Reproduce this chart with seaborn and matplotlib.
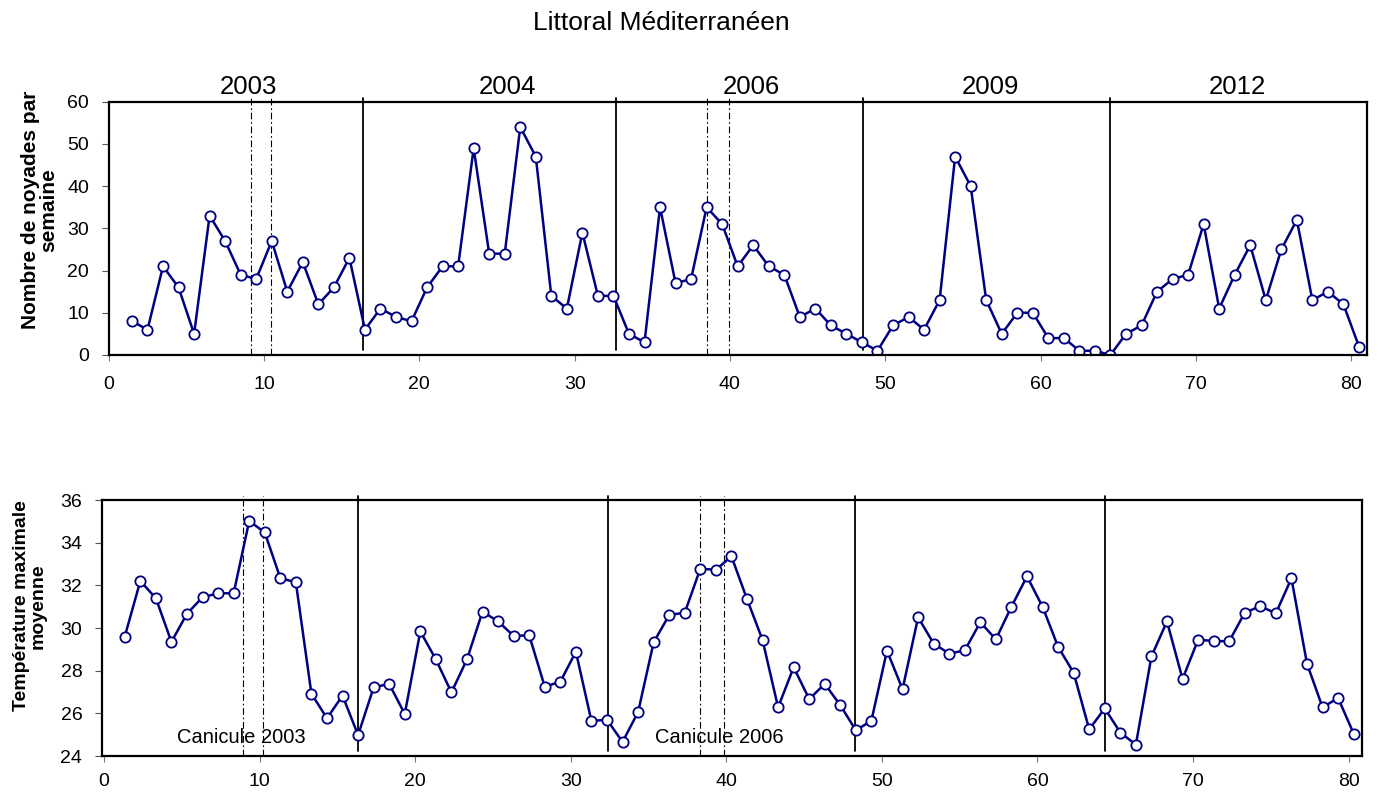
import numpy as np
import matplotlib
matplotlib.use('Agg')
import matplotlib.pyplot as plt
import seaborn as sns

# semaines (saisons 2003, 2004, 2006, 2009, 2012 mises bout a bout)
semaines = np.arange(1, 81)

noyades = [8, 6, 21, 16, 5, 33, 27, 19, 18, 27, 15, 22, 12, 16, 23,
           6, 11, 9, 8, 16, 21, 21, 49, 24, 24, 54, 47, 14, 11, 29, 14,
           14, 5, 3, 35, 17, 18, 35, 31, 21, 26, 21, 19, 9, 11, 7, 5,
           3, 1, 7, 9, 6, 13, 47, 40, 13, 5, 10, 10, 4, 4, 1, 1,
           0, 5, 7, 15, 18, 19, 31, 11, 19, 26, 13, 25, 32, 13, 15, 12, 2]

temperature = [29.6, 32.2, 31.4, 29.35, 30.67, 31.44, 31.63, 31.63, 35.02, 34.48,
               32.34, 32.14, 26.92, 25.77, 26.83, 24.98, 27.22, 27.38, 25.97, 29.84,
               28.53, 26.98, 28.53, 30.77, 30.31, 29.63, 29.66, 27.25, 27.48, 28.89,
               25.64, 25.70, 24.66, 26.06, 29.33, 30.61, 30.72, 32.78, 32.73, 33.36,
               31.36, 29.44, 26.28, 28.16, 26.67, 27.38, 26.38, 25.2, 25.66, 28.94,
               27.13, 30.5, 29.27, 28.8, 28.95, 30.27, 29.47, 31.0, 32.42, 31.0,
               29.12, 27.9, 25.25, 26.23, 25.1, 24.53, 28.67, 30.31, 27.61, 29.45,
               29.39, 29.38, 30.72, 31.02, 30.69, 32.33, 28.33, 26.28, 26.72, 25.05]

annees = ['2003', '2004', '2006', '2009', '2012']
annees_x = [8.97, 25.7, 41.4, 56.75, 72.7]

# limites entre saisons et periodes de canicule
sep_haut = [16.4, 32.65, 48.55, 64.5]
sep_bas = [16.3, 32.4, 48.3, 64.35]
canicule_haut = [9.14, 10.47, 38.5, 39.94]
canicule_bas = [8.95, 10.24, 38.3, 39.85]
canicule_labels = ['Canicule 2003', 'Canicule 2006']
canicule_labels_x = [8.8, 39.55]

navy = '#000080'

sns.set_style('white', {'text.color': 'black', 'xtick.color': 'black',
                        'ytick.color': 'black', 'axes.labelcolor': 'black'})
plt.rcParams['font.family'] = ['Liberation Sans', 'DejaVu Sans']

fig = plt.figure(figsize=(13.86, 7.92), dpi=100)
ax1 = fig.add_axes([0.0784, 0.5518, 0.9077, 0.3198])
ax2 = fig.add_axes([0.0734, 0.04545, 0.9091, 0.3232])

style = dict(color=navy, marker='o', markerfacecolor='white', markeredgecolor=navy,
             markersize=7.4, markeredgewidth=1.3, linewidth=1.8)

sns.lineplot(x=semaines + 0.5, y=noyades, ax=ax1, **style)
sns.lineplot(x=semaines + 0.33, y=temperature, ax=ax2, **style)

ax1.set_xlim(0, 81)
ax1.set_ylim(0, 60)
ax1.set_yticks(range(0, 61, 10))
ax2.set_xlim(-0.15, 80.85)
ax2.set_ylim(24, 36)
ax2.set_yticks(range(24, 37, 2))

for ax, seps, canis in [(ax1, sep_haut, canicule_haut), (ax2, sep_bas, canicule_bas)]:
    ax.set_xticks(range(0, 81, 10))
    for s in ax.spines.values():
        s.set_color('black')
        s.set_linewidth(1.6)
    ax.tick_params(axis='y', direction='out', length=5, width=0.8, color='#555555',
                   labelsize=14, pad=9, left=True)
    ax.tick_params(axis='x', direction='out', length=4, width=0.8, color='#777777',
                   labelsize=14, bottom=True)
    for s in seps:
        ax.axvline(s, ymin=0.02, ymax=1.015, color='black', lw=1.3, clip_on=False, zorder=1)
    for c in canis:
        ax.axvline(c, ymin=0.0, ymax=1.015, color='black', lw=0.8,
                   linestyle=(0, (6, 2.5, 1.5, 2.5)), clip_on=False, zorder=1)
    ax.set_xlabel('')
    ax.set_ylabel('')
    ax.grid(False)

ax1.tick_params(axis='x', pad=11)
ax2.tick_params(axis='x', pad=8)

for a, xa in zip(annees, annees_x):
    ax1.text(xa, 61.9, a, ha='center', va='baseline', fontsize=18.5, clip_on=False)

for lab, xl in zip(canicule_labels, canicule_labels_x):
    ax2.text(xl, 24.61, lab, ha='center', va='baseline', fontsize=14.5)

fig.text(0.0285, 0.7348, 'Nombre de noyades par\nsemaine', rotation=90, ha='center',
         va='center', fontsize=15, fontweight='bold', multialignment='center', linespacing=1.0)
fig.text(0.0216, 0.2348, 'Température maximale\nmoyenne', rotation=90, ha='center',
         va='center', fontsize=14, fontweight='bold', multialignment='center', linespacing=1.0)

fig.text(0.477, 0.962, 'Littoral Méditerranéen', ha='center', va='baseline', fontsize=19)

fig.savefig('out.png', dpi=100)
